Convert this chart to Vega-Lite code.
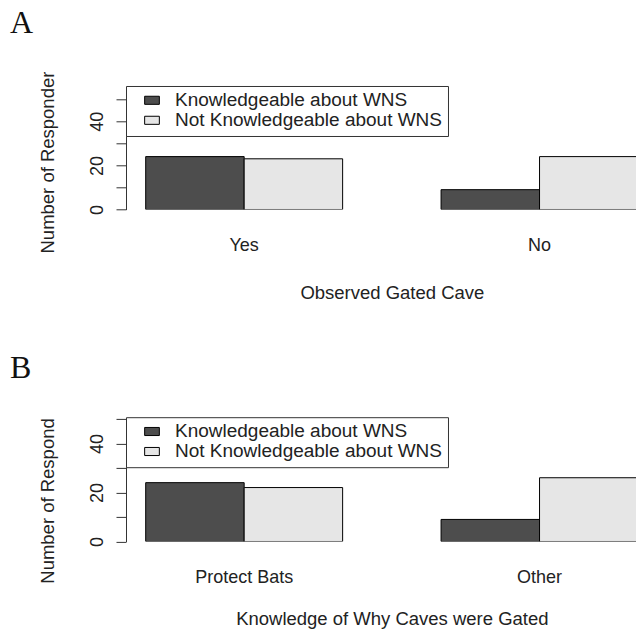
{
  "$schema": "https://vega.github.io/schema/vega-lite/v6.json",
  "padding": {"left": 10, "top": 6.3, "right": 0, "bottom": 0},
  "background": "white",
  "config": {
    "view": {"stroke": null},
    "font": "Liberation Sans",
    "axis": {"labelFont": "Liberation Sans", "titleFont": "Liberation Sans", "labelColor": "#222", "titleColor": "#222", "titleFontWeight": "normal", "grid": false, "domainColor": "#333", "tickColor": "#333"},
    "legend": {"orient": "none", "labelFont": "Liberation Sans", "labelFontSize": 19, "labelColor": "#222", "labelLimit": 400, "symbolType": "M-1,-0.55H1V0.55H-1Z", "symbolSize": 216, "symbolStrokeColor": "black", "symbolStrokeWidth": 1, "symbolOffset": 11.7, "labelOffset": 13.5, "padding": 4.8, "rowPadding": -7, "fillColor": "white", "strokeColor": "#333", "cornerRadius": 0},
    "title": {"font": "Liberation Serif", "fontSize": 32, "fontWeight": "normal", "color": "#111", "anchor": "start", "frame": "group", "dx": -116, "baseline": "alphabetic", "offset": 31.2}
  },
  "datasets": {
    "a": [
      {"cat": "Yes", "group": "Knowledgeable about WNS", "n": 24},
      {"cat": "Yes", "group": "Not Knowledgeable about WNS", "n": 23},
      {"cat": "No", "group": "Knowledgeable about WNS", "n": 9},
      {"cat": "No", "group": "Not Knowledgeable about WNS", "n": 24}
    ],
    "b": [
      {"cat": "Protect Bats", "group": "Knowledgeable about WNS", "n": 24},
      {"cat": "Protect Bats", "group": "Not Knowledgeable about WNS", "n": 22},
      {"cat": "Other", "group": "Knowledgeable about WNS", "n": 9},
      {"cat": "Other", "group": "Not Knowledgeable about WNS", "n": 26}
    ]
  },
  "spacing": 48.6,
  "resolve": {"scale": {"color": "independent", "x": "independent", "y": "independent", "xOffset": "independent"}, "legend": {"color": "independent"}},
  "vconcat": [
    {
      "title": "A",
      "width": 510,
      "height": 110.2,
      "data": {"name": "a"},
      "mark": {"type": "bar", "stroke": "black", "strokeWidth": 1, "clip": true},
      "encoding": {
        "x": {"field": "cat", "type": "nominal", "sort": ["Yes", "No"], "scale": {"range": [0, 531.7], "paddingInner": 0.3333, "paddingOuter": 0.0667},
          "axis": {"title": "Observed Gated Cave", "labelAngle": 0, "domain": false, "ticks": false, "tickSize": 0, "labelPadding": 36.5, "labelBaseline": "middle", "labelFontSize": 18, "titleFontSize": 18.5, "titleY": 83.5, "titleBaseline": "middle"}},
        "xOffset": {"field": "group", "type": "nominal", "sort": ["Knowledgeable about WNS", "Not Knowledgeable about WNS"], "scale": {"paddingInner": 0, "paddingOuter": 0}},
        "y": {"field": "n", "type": "quantitative", "scale": {"domain": [0, 50], "nice": false},
          "axis": {"title": "Number of Responder", "values": [0, 10, 20, 30, 40, 50], "labelExpr": "datum.value % 20 === 0 ? datum.label : ''", "labelOverlap": false, "labelFlush": false, "tickSize": 10, "labelAngle": -90, "labelAlign": "center", "labelBaseline": "middle", "labelPadding": 19, "labelFontSize": 18, "titleFontSize": 18.5, "titleAngle": -90, "titleX": -79, "titleY": 153.7, "titleAlign": "left", "titleBaseline": "middle"}},
        "color": {"field": "group", "type": "nominal", "scale": {"domain": ["Knowledgeable about WNS", "Not Knowledgeable about WNS"], "range": ["#4d4d4d", "#e6e6e6"]}, "legend": {"title": null, "legendX": 0, "legendY": -13.3}}
      }
    },
    {
      "title": "B",
      "width": 510,
      "height": 122.6,
      "data": {"name": "b"},
      "mark": {"type": "bar", "stroke": "black", "strokeWidth": 1, "clip": true},
      "encoding": {
        "x": {"field": "cat", "type": "nominal", "sort": ["Protect Bats", "Other"], "scale": {"range": [0, 531.7], "paddingInner": 0.3333, "paddingOuter": 0.0667},
          "axis": {"title": "Knowledge of Why Caves were Gated", "labelAngle": 0, "domain": false, "ticks": false, "tickSize": 0, "labelPadding": 35.7, "labelBaseline": "middle", "labelFontSize": 18, "titleFontSize": 18.5, "titleY": 77.5, "titleBaseline": "middle"}},
        "xOffset": {"field": "group", "type": "nominal", "sort": ["Knowledgeable about WNS", "Not Knowledgeable about WNS"], "scale": {"paddingInner": 0, "paddingOuter": 0}},
        "y": {"field": "n", "type": "quantitative", "scale": {"domain": [0, 50], "nice": false},
          "axis": {"title": "Number of Respond", "values": [0, 10, 20, 30, 40, 50], "labelExpr": "datum.value % 20 === 0 ? datum.label : ''", "labelOverlap": false, "labelFlush": false, "tickSize": 10, "labelAngle": -90, "labelAlign": "center", "labelBaseline": "middle", "labelPadding": 19, "labelFontSize": 18, "titleFontSize": 18.5, "titleAngle": -90, "titleX": -79, "titleY": 164.3, "titleAlign": "left", "titleBaseline": "middle"}},
        "color": {"field": "group", "type": "nominal", "scale": {"domain": ["Knowledgeable about WNS", "Not Knowledgeable about WNS"], "range": ["#4d4d4d", "#e6e6e6"]}, "legend": {"title": null, "legendX": 0, "legendY": -1.7}}
      }
    }
  ]
}
